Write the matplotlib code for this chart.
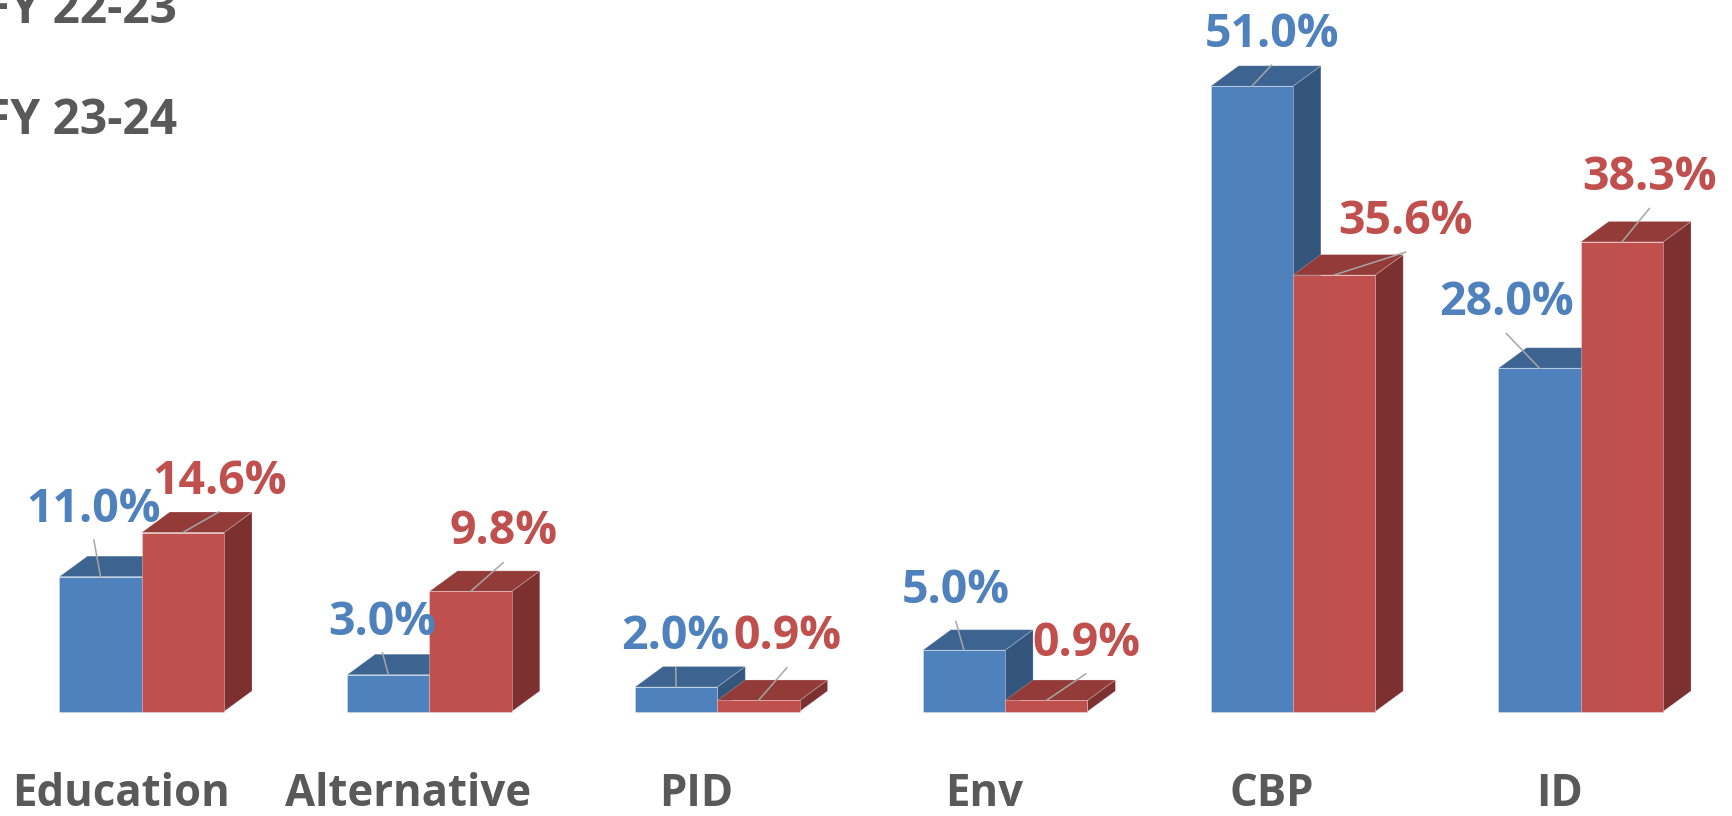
import matplotlib
matplotlib.use("Agg")
import matplotlib.pyplot as plt
from matplotlib.patches import Polygon

# ---------------- data ----------------
categories = ["Education", "Alternative", "PID", "Env", "CBP", "ID"]
series_names = ["FY 22-23", "FY 23-24"]
fy2223 = [11.0, 3.0, 2.0, 5.0, 51.0, 28.0]
fy2324 = [14.6, 9.8, 0.9, 0.9, 35.6, 38.3]

# label placement (pixel offsets of label centre from the bar's top-front centre)
off_2223 = [(-6.7, 71.7), (-5.9, 57.2), (-0.4, 54.5), (-8.2, 64.0), (19.9, 56.2), (-33.4, 69.9)]
off_2324 = [(36.2, 55.7), (32.7, 63.9), (28.6, 68.0), (39.7, 61.7), (71.8, 58.0), (27.7, 68.6)]

# ---------------- style ----------------
W, H, DPI = 1733, 816, 100
BASE_PX = 711.5          # baseline (pixels from top)
PX_PER_PCT = 12.26
CENTER0_PX = 141.7
STEP_PX = 287.8
BAR_PX = 82.3
DX_PX, DY_PX = 28.0, 20.5

blue = dict(front="#4F81BD", top="#3D6491", side="#34567C", text="#4F81BD")
red = dict(front="#C0504D", top="#933B39", side="#7C3130", text="#C0504D")
gray_text = "#595959"
leader_col = "#A6A6A6"
FONT = "Open Sans"

fig = plt.figure(figsize=(W / DPI, H / DPI), dpi=DPI)
ax = fig.add_axes([0, 0, 1, 1])
ax.set_xlim(-CENTER0_PX / STEP_PX, (W - CENTER0_PX) / STEP_PX)
ax.set_ylim(-(H - BASE_PX) / PX_PER_PCT, BASE_PX / PX_PER_PCT)
ax.axis("off")

bw = BAR_PX / STEP_PX
ddx = DX_PX / STEP_PX
ddy = DY_PX / PX_PER_PCT


def bar3d(x0, h, c):
    x1 = x0 + bw
    side = [(x1, 0), (x1 + ddx, ddy), (x1 + ddx, h + ddy), (x1, h)]
    top = [(x0, h), (x0 + ddx, h + ddy), (x1 + ddx, h + ddy), (x1, h)]
    front = [(x0, 0), (x0, h), (x1, h), (x1, 0)]
    ax.add_patch(Polygon(side, closed=True, facecolor=c["side"], edgecolor=(1, 1, 1, 0.25), lw=0.6))
    ax.add_patch(Polygon(top, closed=True, facecolor=c["top"], edgecolor=(1, 1, 1, 0.25), lw=0.6))
    ax.add_patch(Polygon(front, closed=True, facecolor=c["front"], edgecolor=(1, 1, 1, 0.35), lw=0.6))


def value_label(x, h, val, off, c):
    dxp, dyp = off
    ax.annotate("", xy=(x, h), xytext=(dxp, dyp - 35), textcoords="offset pixels",
                arrowprops=dict(arrowstyle="-", color=leader_col, lw=1.1,
                                shrinkA=0, shrinkB=0))
    ax.annotate(f"{val:.1f}%", xy=(x, h), xytext=(dxp, dyp - 17),
                textcoords="offset pixels", ha="center", va="baseline",
                fontsize=33.5, fontweight="bold", family=FONT, color=c["text"])


for k, cat in enumerate(categories):
    b, r = fy2223[k], fy2324[k]
    bar3d(k - bw, b, blue)
    bar3d(k, r, red)
    value_label(k - bw / 2, b, b, off_2223[k], blue)
    value_label(k + bw / 2, r, r, off_2324[k], red)
    ax.annotate(cat, xy=(k, 0), xytext=(-21, -(806 - BASE_PX)), textcoords="offset pixels",
                ha="center", va="baseline", fontsize=31.5, fontweight="bold",
                family=FONT, color=gray_text)

# legend text (markers fall outside the canvas in the original)
fig.text(177 / W, 1 - 23.3 / H, series_names[0], ha="right", va="baseline",
         fontsize=34.5, fontweight="bold", family=FONT, color=gray_text)
fig.text(177 / W, 1 - 134 / H, series_names[1], ha="right", va="baseline",
         fontsize=34.5, fontweight="bold", family=FONT, color=gray_text)

fig.savefig("out.png", dpi=DPI)
